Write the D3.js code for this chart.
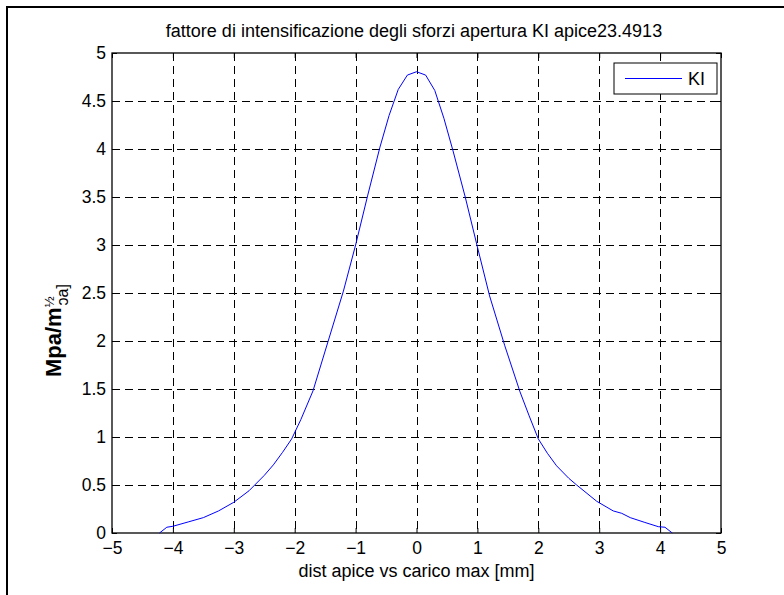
<!DOCTYPE html>
<html><head><meta charset="utf-8">
<script src="https://cdn.jsdelivr.net/npm/d3@7"></script>
<style>body{margin:0;background:#fff}svg{display:block}text{font-family:"Liberation Sans",Arial,sans-serif}</style>
</head><body>
<svg id="c" width="784" height="595"></svg>
<script>
const xData = [-4.22,-4.1,-4.0,-3.75,-3.5,-3.25,-3.0,-2.75,-2.5,-2.35,-2.2,-2.05,-1.9,-1.7,-1.45,-1.2,-1.0,-0.8,-0.6,-0.45,-0.3,-0.15,0,0.15,0.3,0.45,0.6,0.8,1.0,1.2,1.45,1.7,1.85,2.0,2.15,2.3,2.5,2.63,2.96,3.23,3.37,3.51,3.75,3.97,4.08,4.2];
const kiValues = [0,0.06,0.07,0.115,0.16,0.23,0.32,0.44,0.6,0.71,0.84,0.98,1.18,1.48,2.0,2.52,3.0,3.52,4.02,4.35,4.62,4.77,4.805,4.77,4.61,4.32,3.98,3.5,2.98,2.47,1.95,1.47,1.22,0.98,0.83,0.7,0.57,0.5,0.33,0.23,0.205,0.16,0.11,0.066,0.06,0];
const xTicks = [-5,-4,-3,-2,-1,0,1,2,3,4,5];
const yTicks = [0,0.5,1,1.5,2,2.5,3,3.5,4,4.5,5];
const titleText = "fattore di intensificazione degli sforzi apertura KI apice23.4913";
const xLabel = "dist apice vs carico max [mm]";
const legendLabel = "KI";

const svg = d3.select("#c");
const L=112, R=721, T=53, B=533;
const FS=17.5;
const x = d3.scaleLinear().domain([-5,5]).range([L,R]);
const y = d3.scaleLinear().domain([0,5]).range([B,T]);

// figure border
svg.append("rect").attr("x",7).attr("y",7).attr("width",800).attr("height",600)
  .attr("fill","none").attr("stroke","#000").attr("stroke-width",2);

// grid
const g = svg.append("g");
g.selectAll(".vg").data(xTicks.slice(1,-1)).join("line")
  .attr("x1",d=>Math.round(x(d))+0.5).attr("x2",d=>Math.round(x(d))+0.5).attr("y1",T).attr("y2",B)
  .attr("stroke","#000").attr("stroke-dasharray","8,5").attr("stroke-width",1);
g.selectAll(".hg").data(yTicks.slice(1,-1)).join("line")
  .attr("y1",d=>Math.round(y(d))+0.5).attr("y2",d=>Math.round(y(d))+0.5).attr("x1",L).attr("x2",R)
  .attr("stroke","#000").attr("stroke-dasharray","8,5").attr("stroke-width",1);

// axes with inner ticks
const xAxisB = d3.axisBottom(x).tickValues(xTicks).tickSizeInner(-5).tickSizeOuter(0).tickPadding(9).tickFormat(d3.format("d"));
const xAxisT = d3.axisTop(x).tickValues(xTicks).tickSizeInner(-5).tickSizeOuter(0).tickFormat("");
const yAxisL = d3.axisLeft(y).tickValues(yTicks).tickSizeInner(-5).tickSizeOuter(0).tickPadding(6).tickFormat(d=>String(d));
const yAxisR = d3.axisRight(y).tickValues(yTicks).tickSizeInner(-5).tickSizeOuter(0).tickFormat("");
function style(sel){sel.select(".domain").remove();sel.selectAll("line").attr("stroke","#000");sel.selectAll("text").attr("font-size",FS).attr("fill","#000");}
svg.append("g").attr("transform",`translate(0,${B})`).call(xAxisB).call(style);
svg.append("g").attr("transform",`translate(0,${T})`).call(xAxisT).call(style);
svg.append("g").attr("transform",`translate(${L},0)`).call(yAxisL).call(style);
svg.append("g").attr("transform",`translate(${R},0)`).call(yAxisR).call(style);

// frame
svg.append("rect").attr("x",L).attr("y",T).attr("width",R-L).attr("height",B-T)
  .attr("fill","none").attr("stroke","#000").attr("stroke-width",1.3);

// curve
const pts = xData.map((d,i)=>[d,kiValues[i]]);
svg.append("path").datum(pts).attr("fill","none").attr("stroke","#0000ff").attr("stroke-width",1)
  .attr("d",d3.line().x(d=>x(d[0])).y(d=>y(d[1])));

// title
svg.append("text").attr("x",414).attr("y",37).attr("text-anchor","middle").attr("font-size",18).text(titleText);
// x label
svg.append("text").attr("x",(L+R)/2).attr("y",577).attr("text-anchor","middle").attr("font-size",18).text(xLabel);
// y label
const yl = svg.append("text").attr("transform","translate(61,377) rotate(-90)").attr("text-anchor","start");
yl.append("tspan").attr("font-size",22).attr("font-weight","bold").text("Mpa/m");
yl.append("tspan").attr("font-size",13).attr("dy",-7).text("½");
yl.append("tspan").attr("font-size",16).attr("dy",14).attr("dx",-9).text("ɔa]");

// legend
svg.append("rect").attr("x",614).attr("y",63).attr("width",103).attr("height",31).attr("fill","#fff").attr("stroke","#000");
svg.append("line").attr("x1",625).attr("x2",682).attr("y1",78.5).attr("y2",78.5).attr("stroke","#0000ff");
svg.append("text").attr("x",688).attr("y",85).attr("font-size",18).text(legendLabel);
</script></body></html>
